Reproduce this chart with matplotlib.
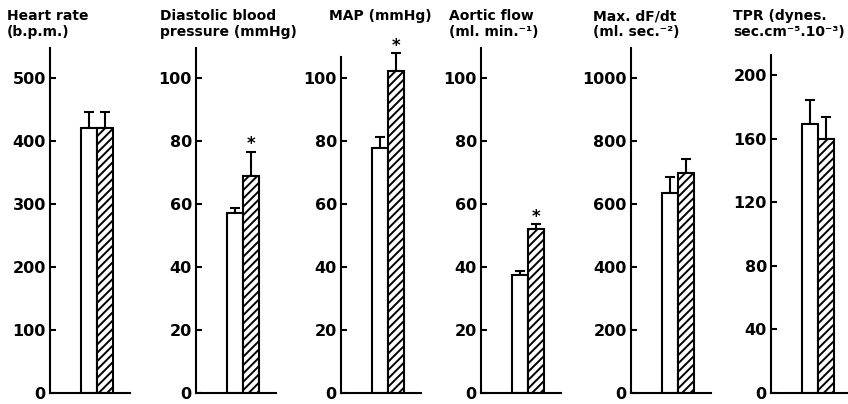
import matplotlib
matplotlib.use("Agg")
import matplotlib.pyplot as plt

# ---------------- data ----------------
titles = ["Heart rate\n(b.p.m.)",
          "Diastolic blood\npressure (mmHg)",
          "MAP (mmHg)",
          "Aortic flow\n(ml. min.\u207b\u00b9)",
          "Max. dF/dt\n(ml. sec.\u207b\u00b2)",
          "TPR (dynes.\nsec.cm\u207b\u2075.10\u207b\u00b3)"]
open_means = [420, 57, 78, 37.5, 634, 169]
open_err = [26, 1.7, 3.5, 1.3, 50, 15.5]
hatched_means = [420, 69, 102.5, 52, 697, 160]
hatched_err = [26, 7.5, 5.5, 1.6, 45, 13.5]
significant = [False, True, True, True, False, False]
yticks = [[0, 100, 200, 300, 400, 500],
          [0, 20, 40, 60, 80, 100],
          [0, 20, 40, 60, 80, 100],
          [0, 20, 40, 60, 80, 100],
          [0, 200, 400, 600, 800, 1000],
          [0, 40, 80, 120, 160, 200]]

# ---------------- layout ----------------
W, H = 848, 404
axis_left_px = [50, 196, 341, 481, 631, 771]
axis_top_px = [48, 48, 57, 48, 48, 55]
ytop = [547, 109.5, 106.8, 109.5, 1095, 212.6]
title_off_px = [-43, -36, -12, -32, -38, -38]
zero_px = 393
axis_w_px = 80

plt.rcParams['font.family'] = ['DejaVu Sans']
plt.rcParams['hatch.linewidth'] = 1.4
plt.rcParams['hatch.color'] = 'black'

fig = plt.figure(figsize=(W / 100, H / 100), dpi=100)
fig.patch.set_facecolor('white')

lw = 1.5
for i in range(6):
    left = axis_left_px[i] / W
    bottom = (H - zero_px) / H
    height = (zero_px - axis_top_px[i]) / H
    width = axis_w_px / W
    ax = fig.add_axes([left, bottom, width, height])
    ax.set_xlim(0, 5)
    ax.set_ylim(0, ytop[i])
    x_open, x_hatch = 2.45, 3.45
    ax.bar(x_open, open_means[i], width=1.0, color='white', edgecolor='black',
           linewidth=lw, zorder=2)
    ax.bar(x_hatch, hatched_means[i], width=1.0, color='white', edgecolor='black',
           linewidth=lw, hatch='////', zorder=2)
    eb = ax.errorbar([x_open, x_hatch], [open_means[i], hatched_means[i]],
                     yerr=[[0, 0], [open_err[i], hatched_err[i]]],
                     fmt='none', ecolor='black', elinewidth=lw, capsize=3.5,
                     capthick=lw, zorder=1)
    for a in eb.get_children():
        a.set_clip_on(False)
    if significant[i]:
        ax.annotate('*', xy=(x_hatch, hatched_means[i] + hatched_err[i]),
                    xytext=(0, -1), textcoords='offset points',
                    ha='center', va='bottom', fontsize=12, fontweight='bold',
                    annotation_clip=False)
    for s in ['top', 'right']:
        ax.spines[s].set_visible(False)
    ax.spines['left'].set_linewidth(lw)
    ax.spines['bottom'].set_linewidth(lw)
    ax.set_xticks([])
    ax.set_yticks(yticks[i])
    ax.set_yticklabels([str(t) for t in yticks[i]])
    ax.tick_params(axis='y', direction='in', length=4, width=lw, pad=3,
                   labelsize=11.5)
    for lab in ax.get_yticklabels():
        lab.set_fontweight('bold')
    fig.text((axis_left_px[i] + title_off_px[i]) / W, 1 - 9 / H, titles[i],
             ha='left', va='top', fontsize=10, fontweight='bold',
             linespacing=1.15)

fig.savefig('out.png', dpi=100, facecolor='white')
